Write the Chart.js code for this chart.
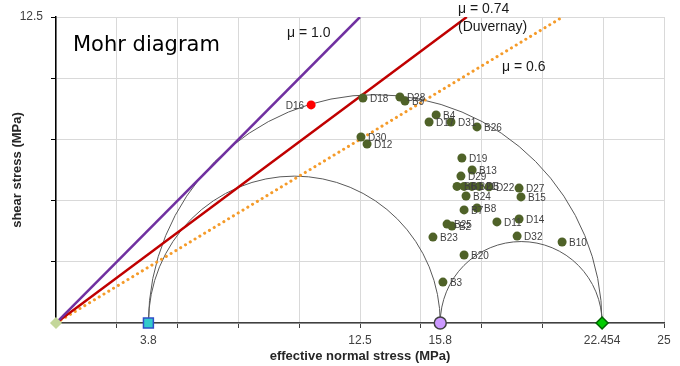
<!DOCTYPE html>
<html>
<head>
<meta charset="utf-8">
<script src="https://cdn.jsdelivr.net/npm/chart.js@4"></script>
<style>
  html, body { margin: 0; padding: 0; background: #fff; }
  #wrap { width: 680px; height: 366px; }
</style>
</head>
<body>
<div id="wrap"><canvas id="mohr_chart"></canvas></div>
<script>
// sample points (effective normal stress, shear stress) in MPa
const pointNames = ['D16', 'D18', 'D28', 'B9', 'B4', 'D17', 'D31', 'B26', 'D30', 'D12',
  'D19', 'B13', 'D29', 'B6', 'B1', 'B21', 'D5', 'D22', 'B24', 'B8', 'B7', 'D27', 'B15',
  'D14', 'D11', 'B25', 'B2', 'B23', 'D32', 'B10', 'B20', 'B3']
const normalStress = [10.49, 12.62, 14.14, 14.35, 15.63, 15.34, 16.24, 17.31, 12.54, 12.79,
  16.69, 17.11, 16.65, 16.49, 16.78, 17.1, 17.4, 17.8, 16.86, 17.31, 16.78, 19.04, 19.12,
  19.04, 18.13, 16.08, 16.28, 15.5, 18.96, 20.81, 16.78, 15.91]
const shearStress = [8.91, 9.19, 9.23, 9.07, 8.5, 8.21, 8.21, 8.01, 7.6, 7.31,
  6.74, 6.25, 6.0, 5.58, 5.58, 5.58, 5.58, 5.56, 5.19, 4.7, 4.62, 5.51, 5.15,
  4.25, 4.13, 4.04, 3.96, 3.51, 3.55, 3.31, 2.78, 1.67]

// principal stresses for the Mohr circles: sigma3, pore/intermediate, sigma1
const circleStress = [3.8, 15.8, 22.454]
const friction = [1.0, 0.74, 0.6]
const frictionColors = ['#7030A0', '#C00000', '#F59B2A']

const xTickLabels = [3.8, 12.5, 15.8, 22.454, 25]
const yTickLabels = [12.5]
const xMax = 25
const yMax = 12.5
const gridStep = 2.5

const ctx = document.getElementById('mohr_chart')

// friction envelopes from the origin up to the top of the plot
const lineSets = friction.map((mu, i) => ({
  type: 'line',
  data: [{ x: 0, y: 0 }, { x: yMax / mu, y: yMax }],
  borderColor: frictionColors[i],
  borderWidth: i === 2 ? 3 : 2.5,
  borderDash: i === 2 ? [0.1, 5.5] : [],
  borderCapStyle: i === 2 ? 'round' : 'butt',
  pointRadius: 0,
  order: 3
}))

const samples = normalStress.map((x, i) => ({ x: x, y: shearStress[i] }))

const stressMarks = [0].concat(circleStress).map(x => ({ x: x, y: 0 }))

const mohrCircles = {
  id: 'mohrCircles',
  beforeDatasetsDraw(chart) {
    const { ctx, scales: { x, y } } = chart
    const pairs = [[0, 2], [0, 1], [1, 2]]
    ctx.save()
    ctx.strokeStyle = '#595959'
    ctx.lineWidth = 1
    pairs.forEach(p => {
      const a = circleStress[p[0]], b = circleStress[p[1]]
      const c = (a + b) / 2, r = (b - a) / 2
      const cx = x.getPixelForValue(c), cy = y.getPixelForValue(0)
      const rx = x.getPixelForValue(c + r) - cx
      const ry = cy - y.getPixelForValue(r)
      ctx.beginPath()
      ctx.ellipse(cx, cy, rx, ry, 0, Math.PI, 2 * Math.PI)
      ctx.stroke()
    })
    ctx.restore()
  }
}

const pointLabels = {
  id: 'pointLabels',
  afterDatasetsDraw(chart) {
    const { ctx } = chart
    const meta = chart.getDatasetMeta(3)
    ctx.save()
    ctx.font = '10px "Liberation Sans", Arial, sans-serif'
    ctx.fillStyle = '#404040'
    ctx.textBaseline = 'middle'
    meta.data.forEach((pt, i) => {
      if (pointNames[i] === 'D16') {
        ctx.textAlign = 'right'
        ctx.fillText(pointNames[i], pt.x - 7, pt.y + 1)
      } else {
        ctx.textAlign = 'left'
        ctx.fillText(pointNames[i], pt.x + 7, pt.y + 1)
      }
    })
    ctx.restore()
  }
}

const notes = {
  id: 'notes',
  afterDraw(chart) {
    const { ctx } = chart
    ctx.save()
    ctx.fillStyle = '#000'
    ctx.textBaseline = 'middle'
    ctx.textAlign = 'left'
    ctx.font = '21px "DejaVu Sans", sans-serif'
    ctx.fillText('Mohr diagram', 73, 46)
    ctx.font = '14px "Liberation Sans", Arial, sans-serif'
    ctx.fillStyle = '#1a1a1a'
    ctx.fillText('\u03bc = 1.0', 287, 33)
    ctx.fillText('\u03bc = 0.74', 458, 9)
    ctx.fillText('(Duvernay)', 458, 27)
    ctx.fillText('\u03bc = 0.6', 502, 67)
    ctx.restore()
  }
}

const isGrid = v => Math.abs(v / gridStep - Math.round(v / gridStep)) < 1e-6

new Chart(ctx, {
  type: 'scatter',
  data: {
    datasets: lineSets.concat([
      {
        data: samples,
        pointRadius: 4.5,
        pointHoverRadius: 4.5,
        pointBorderWidth: 0,
        pointBackgroundColor: pointNames.map(n => n === 'D16' ? '#FF0000' : '#4F6228'),
        order: 2
      },
      {
        data: stressMarks,
        pointStyle: ['rectRot', 'rect', 'circle', 'rectRot'],
        pointRadius: [5, 7, 6, 6],
        pointBorderWidth: 1.5,
        pointBackgroundColor: ['#C4D79B', '#33CCCC', '#CC99FF', '#00CC00'],
        pointBorderColor: ['#C4D79B', '#2F4FC8', '#404040', '#006100'],
        clip: false,
        order: 1
      }
    ])
  },
  options: {
    responsive: true,
    maintainAspectRatio: false,
    animation: false,
    layout: { padding: { top: 17, right: 16, left: 0, bottom: 0 } },
    plugins: {
      legend: { display: false },
      tooltip: { enabled: false }
    },
    scales: {
      x: {
        type: 'linear',
        min: 0,
        max: xMax,
        afterBuildTicks: axis => {
          const vals = []
          for (let v = 0; v <= xMax + 1e-9; v += gridStep) vals.push(v)
          xTickLabels.forEach(v => { if (!vals.includes(v)) vals.push(v) })
          vals.sort((a, b) => a - b)
          axis.ticks = vals.map(v => ({ value: v }))
        },
        afterFit: scale => { scale.height = 43 },
        grid: {
          color: c => (c.tick && isGrid(c.tick.value)) ? '#D9D9D9' : 'rgba(0,0,0,0)',
          tickColor: c => (c.tick && isGrid(c.tick.value)) ? '#404040' : 'rgba(0,0,0,0)',
          tickLength: 5
        },
        border: { color: '#404040', width: 1.5 },
        ticks: {
          autoSkip: false,
          maxRotation: 0,
          padding: 5,
          color: '#404040',
          font: { family: '"Liberation Sans", Arial, sans-serif', size: 12 },
          callback: v => xTickLabels.includes(v) ? String(v) : ''
        },
        title: {
          display: true,
          text: 'effective normal stress (MPa)',
          color: '#262626',
          font: { family: '"Liberation Sans", Arial, sans-serif', size: 13, weight: 'bold' },
          padding: { top: 0, bottom: 2 }
        }
      },
      y: {
        type: 'linear',
        min: 0,
        max: yMax,
        afterFit: scale => { scale.width = 56 },
        grid: { color: '#D9D9D9', tickColor: '#000', tickLength: 5 },
        border: { color: '#000', width: 1.5 },
        ticks: {
          stepSize: gridStep,
          padding: 8,
          color: '#404040',
          font: { family: '"Liberation Sans", Arial, sans-serif', size: 12 },
          callback: v => yTickLabels.includes(v) ? String(v) : ''
        },
        title: {
          display: true,
          text: 'shear stress (MPa)',
          color: '#262626',
          font: { family: '"Liberation Sans", Arial, sans-serif', size: 13, weight: 'bold' },
          padding: { top: 10, bottom: 0 }
        }
      }
    }
  },
  plugins: [mohrCircles, pointLabels, notes]
})
</script>
</body>
</html>
